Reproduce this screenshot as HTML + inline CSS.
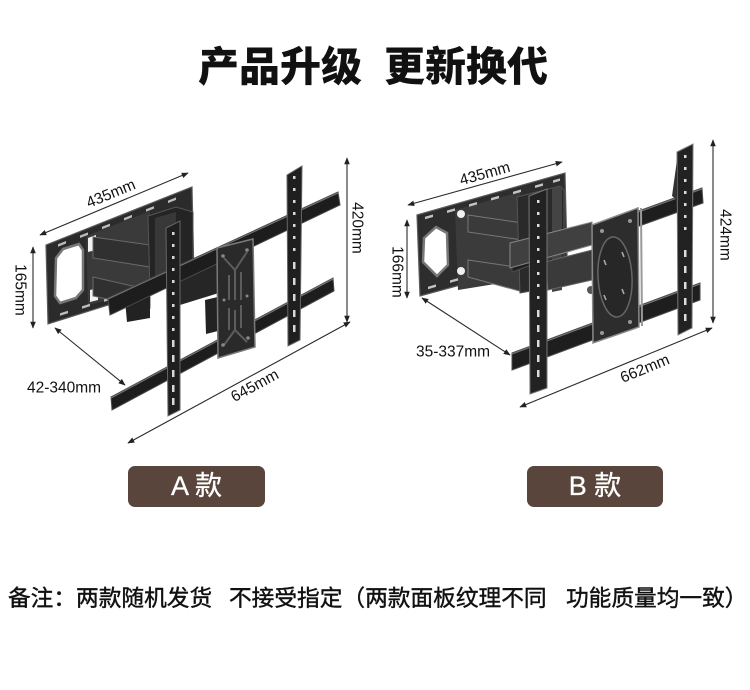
<!DOCTYPE html>
<html><head><meta charset="utf-8">
<style>
html,body{margin:0;padding:0;background:#fff;}
body{width:750px;height:690px;position:relative;overflow:hidden;font-family:"Liberation Sans","Noto Sans CJK SC",sans-serif;}
.t{position:absolute;font-weight:900;font-size:41px;line-height:41px;color:#111;white-space:nowrap;font-family:"Liberation Sans","Noto Sans CJK SC",sans-serif;}
.lab{position:absolute;top:466px;height:41px;background:#59453b;border-radius:7px;color:#fff;font-size:27px;line-height:41px;text-align:center;font-family:"Liberation Sans","Noto Sans CJK SC",sans-serif;-webkit-text-stroke:0.3px #fff;}
.n{position:absolute;top:587px;font-size:22.7px;line-height:23px;color:#111;white-space:nowrap;font-family:"Liberation Sans","Noto Sans CJK SC",sans-serif;-webkit-text-stroke:0.4px #111;}
svg{position:absolute;left:0;top:0;}
</style></head><body>
<svg width="750" height="690" viewBox="0 0 750 690" xmlns="http://www.w3.org/2000/svg">
<defs>
<marker id="ar" viewBox="0 0 10 10" refX="9" refY="5" markerWidth="7" markerHeight="7" orient="auto-start-reverse" markerUnits="userSpaceOnUse"><path d="M0,1 L10,5 L0,9 z" fill="#222"/></marker>
</defs>

<!-- ================= A MOUNT ================= -->
<g>
<polygon points="46,245 192,187 194,278 48,324" fill="#2b2b2b" stroke="#5a5a5a" stroke-width="1.2"/>
<polygon points="86,236 150,211 150,290 88,305" fill="#3a3a3a"/>
<g transform="matrix(1,-0.397,0,1,46,245)" fill="#bdbdbd">
<rect x="12" y="4" width="8" height="2.5"/><rect x="34" y="4" width="8" height="2.5"/><rect x="56" y="4" width="8" height="2.5"/><rect x="78" y="4" width="8" height="2.5"/><rect x="100" y="4" width="8" height="2.5"/><rect x="122" y="4" width="8" height="2.5"/>
</g>
<g transform="matrix(1,-0.315,0,1,48,324)" fill="#bdbdbd">
<rect x="12" y="-7" width="8" height="2.5"/><rect x="34" y="-7" width="8" height="2.5"/><rect x="56" y="-7" width="8" height="2.5"/><rect x="78" y="-7" width="8" height="2.5"/>
</g>
<polygon points="56,258 63,249 79,244 83,250 83,290 76,298 60,303 55,296" fill="#fff" stroke="#777" stroke-width="2.5"/>
<polygon points="88,238 96,235 96,250 88,252" fill="#f2f2f2"/>
<polygon points="90,290 98,288 98,300 90,302" fill="#f2f2f2"/>
<polygon points="93,237 150,245 150,267 93,258" fill="#303030" stroke="#6a6a6a" stroke-width="1"/>
<polygon points="93,277 150,290 150,308 93,296" fill="#303030" stroke="#6a6a6a" stroke-width="1"/>
<polygon points="148,216 176,207 193,212 193,282 150,292" fill="#242424" stroke="#555" stroke-width="1"/>
<polygon points="155,218 176,212 176,270 155,276" fill="#383838"/>
<polygon points="176,266 222,246 222,292 180,305" fill="#262626"/>
<polygon points="125,300 150,294 150,318 127,322" fill="#222"/>
<polygon points="205,300 222,296 222,330 206,334" fill="#222"/>
<polygon points="108,298 338,192 340,205 110,315" fill="#1d1d1d" stroke="#4a4a4a" stroke-width="1"/>
<line x1="108" y1="299" x2="338" y2="193" stroke="#777" stroke-width="1"/>
<polygon points="111,397 333,278 334,291 112,410" fill="#1d1d1d" stroke="#4a4a4a" stroke-width="1"/>
<line x1="111" y1="398" x2="333" y2="279" stroke="#777" stroke-width="1"/>
<polygon points="217,248 253,239 255,347 218,358" fill="#2a2a2a" stroke="#7a7a7a" stroke-width="1.5"/>
<path d="M224,258 L235,270 L247,252 M235,270 L235,300 M229,275 L229,300 M241,272 L241,300 M224,345 L235,330 L247,342 M235,330 L235,310 M229,330 L229,308 M241,328 L241,305" stroke="#5d5d5d" stroke-width="2" fill="none"/>
<circle cx="223" cy="256" r="1.8" fill="#888"/><circle cx="247" cy="250" r="1.8" fill="#888"/><circle cx="223" cy="345" r="1.8" fill="#888"/><circle cx="248" cy="338" r="1.8" fill="#888"/>
<circle cx="224" cy="300" r="1.5" fill="#888"/><circle cx="247" cy="296" r="1.5" fill="#888"/>
<polygon points="166,228 180,221 180,410 168,416" fill="#1f1f1f" stroke="#666" stroke-width="1"/>
<g fill="#d8d8d8">
<rect x="172" y="232" width="2.5" height="3"/><rect x="172" y="244" width="2.5" height="3"/><rect x="172" y="256" width="2.5" height="3"/><rect x="172" y="268" width="2.5" height="3"/><rect x="172" y="280" width="2.5" height="3"/><rect x="172" y="292" width="2.5" height="3"/><rect x="172" y="304" width="2.5" height="3"/><rect x="172" y="316" width="2.5" height="3"/><rect x="172" y="328" width="2.5" height="3"/>
<rect x="172" y="340" width="2.5" height="7"/><rect x="172" y="355" width="2.5" height="7"/><rect x="172" y="370" width="2.5" height="7"/><rect x="172" y="385" width="2.5" height="7"/><rect x="172" y="398" width="2.5" height="7"/>
</g>
<polygon points="287,175 302,166 300,340 288,346" fill="#1f1f1f" stroke="#666" stroke-width="1"/>
<g fill="#d8d8d8">
<rect x="293" y="176" width="2.5" height="3"/><rect x="293" y="188" width="2.5" height="3"/><rect x="293" y="200" width="2.5" height="3"/><rect x="293" y="212" width="2.5" height="3"/><rect x="293" y="224" width="2.5" height="3"/><rect x="293" y="236" width="2.5" height="3"/><rect x="293" y="248" width="2.5" height="3"/>
<rect x="293" y="262" width="2.5" height="7"/><rect x="293" y="278" width="2.5" height="7"/><rect x="293" y="294" width="2.5" height="7"/><rect x="293" y="310" width="2.5" height="7"/><rect x="293" y="325" width="2.5" height="7"/>
</g>
<g stroke="#2a2a2a" stroke-width="1.1" fill="none">
<line x1="40" y1="235" x2="188" y2="173" marker-start="url(#ar)" marker-end="url(#ar)"/>
<line x1="33" y1="247" x2="33" y2="328" marker-start="url(#ar)" marker-end="url(#ar)"/>
<line x1="347" y1="158" x2="347" y2="322" marker-start="url(#ar)" marker-end="url(#ar)"/>
<line x1="55" y1="328" x2="125" y2="385" marker-start="url(#ar)" marker-end="url(#ar)"/>
<line x1="128" y1="443" x2="350" y2="322" marker-start="url(#ar)" marker-end="url(#ar)"/>
</g>
<g font-family="Liberation Sans, sans-serif" font-size="15.5" fill="#111" text-anchor="middle" dominant-baseline="central">
<text x="111" y="194" transform="rotate(-22.5 111 194)">435mm</text>
<text x="20" y="290" transform="rotate(90 20 290)">165mm</text>
<text x="357" y="228" transform="rotate(90 357 228)">420mm</text>
<text x="64" y="388">42-340mm</text>
<text x="255" y="386" transform="rotate(-28.5 255 386)">645mm</text>
</g>
</g>

<!-- ================= B MOUNT ================= -->
<g>
<polygon points="417,215 565,173 567,256 420,296" fill="#2d2d2d" stroke="#5a5a5a" stroke-width="1.2"/>
<polygon points="455,210 520,192 520,280 458,290" fill="#3b3b3b"/>
<g transform="matrix(1,-0.284,0,1,417,215)" fill="#c4c4c4">
<rect x="8" y="4" width="8" height="2.5"/><rect x="30" y="4" width="8" height="2.5"/><rect x="52" y="4" width="8" height="2.5"/><rect x="74" y="4" width="8" height="2.5"/><rect x="96" y="4" width="8" height="2.5"/><rect x="118" y="4" width="8" height="2.5"/><rect x="136" y="4" width="7" height="2.5"/>
</g>
<g transform="matrix(1,-0.286,0,1,420,296)" fill="#c4c4c4">
<rect x="8" y="-7" width="8" height="2.5"/><rect x="30" y="-7" width="8" height="2.5"/><rect x="52" y="-7" width="8" height="2.5"/>
</g>
<polygon points="424,238 436,227 447,233 448,265 437,276 423,262" fill="#fff" stroke="#777" stroke-width="2.5"/>
<circle cx="461" cy="214" r="4" fill="#f0f0f0"/><circle cx="461" cy="271" r="4" fill="#f0f0f0"/>
<polygon points="468,215 523,223 523,240 468,232" fill="#3a3a3a" stroke="#777" stroke-width="1"/>
<polygon points="468,260 523,268 523,292 468,277" fill="#3a3a3a" stroke="#777" stroke-width="1"/>
<polygon points="517,197 560,186 564,190 564,285 520,293" fill="#2a2a2a" stroke="#555" stroke-width="1"/>
<polygon points="552,188 562,186 562,290 552,292" fill="#444"/>
<polygon points="512,257 702,188 703,203 512,272" fill="#1e1e1e" stroke="#4a4a4a" stroke-width="1"/>
<line x1="512" y1="258" x2="702" y2="189" stroke="#777" stroke-width="1"/>
<polygon points="510,243 592,222 592,245 510,268" fill="#404040" stroke="#888" stroke-width="1"/>
<polygon points="545,262 592,250 592,280 548,290" fill="#3a3a3a" stroke="#666" stroke-width="1"/>
<circle cx="591" cy="290" r="4" fill="#555"/>
<polygon points="512,353 700,283 700,300 512,370" fill="#1e1e1e" stroke="#4a4a4a" stroke-width="1"/>
<line x1="512" y1="354" x2="700" y2="284" stroke="#777" stroke-width="1"/>
<polygon points="592,225 638,208 639,327 593,343" fill="#2d2d2d" stroke="#8a8a8a" stroke-width="1.5"/>
<line x1="641" y1="208" x2="642" y2="326" stroke="#999" stroke-width="2"/>
<ellipse cx="615" cy="277" rx="17" ry="40" fill="#272727" stroke="#666" stroke-width="1.5" transform="rotate(-3 615 277)"/>
<g stroke="#aaa" stroke-width="1.6" fill="none">
<path d="M604,260 l2,5"/><path d="M622,252 l2,5"/><path d="M604,295 l2,5"/><path d="M622,289 l2,5"/>
</g>
<circle cx="602" cy="231" r="2" fill="#999"/><circle cx="630" cy="221" r="2" fill="#999"/><circle cx="602" cy="333" r="2" fill="#999"/><circle cx="630" cy="322" r="2" fill="#999"/>
<polygon points="529,196 547,189 547,388 530,394" fill="#222" stroke="#777" stroke-width="1"/>
<g fill="#dcdcdc">
<rect x="537" y="200" width="2.5" height="3"/><rect x="537" y="212" width="2.5" height="3"/><rect x="537" y="224" width="2.5" height="3"/><rect x="537" y="236" width="2.5" height="3"/><rect x="537" y="248" width="2.5" height="3"/><rect x="537" y="260" width="2.5" height="3"/><rect x="537" y="272" width="2.5" height="3"/><rect x="537" y="284" width="2.5" height="3"/><rect x="537" y="296" width="2.5" height="3"/>
<rect x="537" y="310" width="2.5" height="7"/><rect x="537" y="325" width="2.5" height="7"/><rect x="537" y="340" width="2.5" height="7"/><rect x="537" y="355" width="2.5" height="7"/><rect x="537" y="370" width="2.5" height="7"/>
</g>
<polygon points="677,152 693,144 692,328 678,335" fill="#222" stroke="#777" stroke-width="1"/>
<polygon points="672,196 677,160 677,200" fill="#333"/>
<g fill="#dcdcdc">
<rect x="684" y="155" width="2.5" height="3"/><rect x="684" y="167" width="2.5" height="3"/><rect x="684" y="179" width="2.5" height="3"/><rect x="684" y="191" width="2.5" height="3"/><rect x="684" y="203" width="2.5" height="3"/><rect x="684" y="215" width="2.5" height="3"/><rect x="684" y="227" width="2.5" height="3"/>
<rect x="684" y="250" width="2.5" height="7"/><rect x="684" y="266" width="2.5" height="7"/><rect x="684" y="282" width="2.5" height="7"/><rect x="684" y="298" width="2.5" height="7"/><rect x="684" y="314" width="2.5" height="7"/>
</g>
<g stroke="#2a2a2a" stroke-width="1.1" fill="none">
<line x1="408" y1="205" x2="562" y2="162" marker-start="url(#ar)" marker-end="url(#ar)"/>
<line x1="407" y1="220" x2="407" y2="298" marker-start="url(#ar)" marker-end="url(#ar)"/>
<line x1="713" y1="140" x2="713" y2="323" marker-start="url(#ar)" marker-end="url(#ar)"/>
<line x1="422" y1="298" x2="510" y2="355" marker-start="url(#ar)" marker-end="url(#ar)"/>
<line x1="520" y1="407" x2="712" y2="328" marker-start="url(#ar)" marker-end="url(#ar)"/>
</g>
<g font-family="Liberation Sans, sans-serif" font-size="15.5" fill="#111" text-anchor="middle" dominant-baseline="central">
<text x="485" y="174" transform="rotate(-15.5 485 174)">435mm</text>
<text x="397" y="272" transform="rotate(90 397 272)">166mm</text>
<text x="725" y="235" transform="rotate(90 725 235)">424mm</text>
<text x="453" y="352">35-337mm</text>
<text x="645" y="369" transform="rotate(-22.4 645 369)">662mm</text>
</g>
</g>
</svg>

<div class="t" style="left:198px;top:47px">产品升级</div>
<div class="t" style="left:384px;top:47px">更新换代</div>

<div class="lab" style="left:128px;width:137px">A 款</div>
<div class="lab" style="left:527px;width:136px">B 款</div>

<div class="n" style="left:8px">备注：两款随机发货</div>
<div class="n" style="left:229px">不接受指定（两款面板纹理不同</div>
<div class="n" style="left:566px">功能质量均一致）</div>
</body></html>
